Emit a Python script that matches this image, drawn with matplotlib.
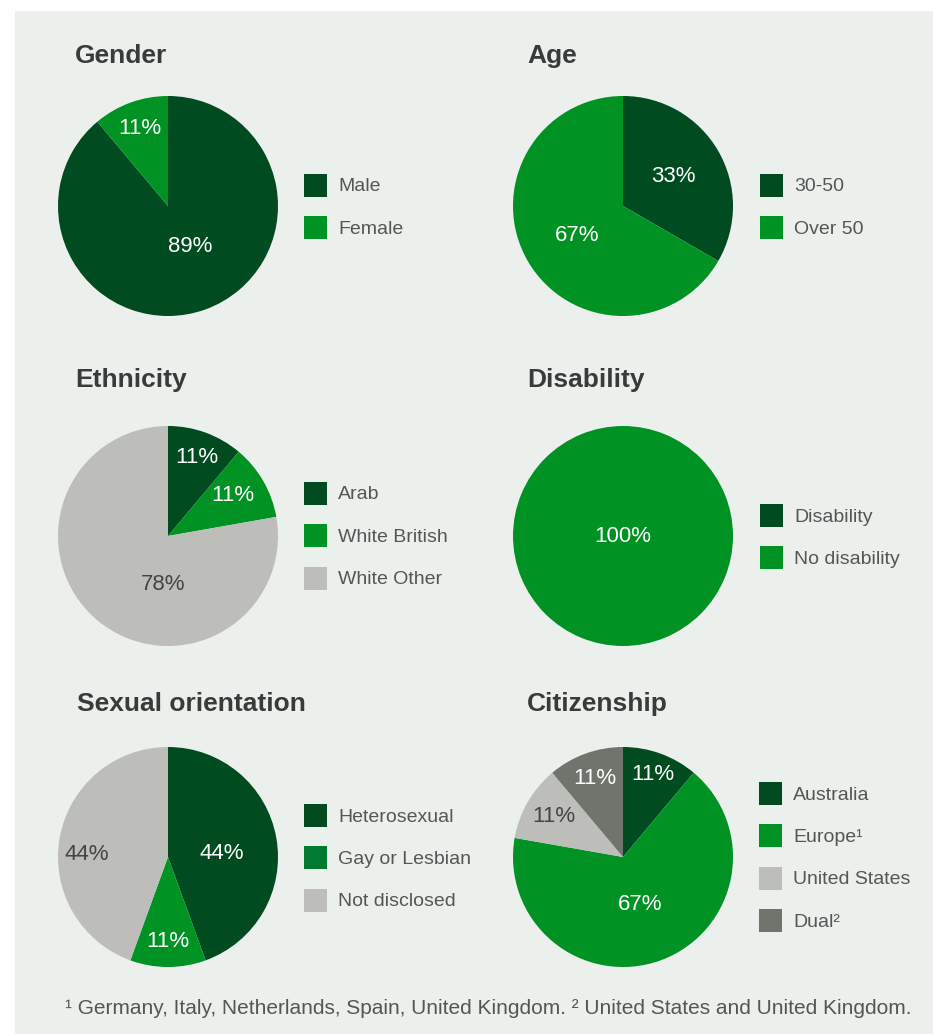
import matplotlib
matplotlib.use("Agg")
import matplotlib.pyplot as plt
from matplotlib.patches import Rectangle
import numpy as np

plt.rcParams['font.family'] = ['Liberation Sans', 'DejaVu Sans']

# board counts (9 members) per category
titles = ['Gender', 'Age', 'Ethnicity', 'Disability', 'Sexual orientation', 'Citizenship']

gender_labels = ['Male', 'Female']
gender_counts = [8, 1]
age_labels = ['30-50', 'Over 50']
age_counts = [3, 6]
ethnicity_labels = ['Arab', 'White British', 'White Other']
ethnicity_counts = [1, 1, 7]
disability_labels = ['Disability', 'No disability']
disability_counts = [0, 9]
sexual_labels = ['Heterosexual', 'Gay or Lesbian', 'Not disclosed']
sexual_counts = [4, 1, 4]
citizen_labels = ['Australia', 'Europe¹', 'United States', 'Dual²']
citizen_counts = [1, 6, 1, 1]

footnote = ('¹ Germany, Italy, Netherlands, Spain, United Kingdom. '
            '² United States and United Kingdom.')

DARK = '#004b1f'
GREEN = '#009222'
MID = '#027b31'
LGRAY = '#bdbeb9'
DGRAY = '#6f756c'
TXT = '#3a3a3a'
LEG = '#555555'

W, H = 933, 1034
fig = plt.figure(figsize=(W / 100, H / 100), dpi=100)
fig.patch.set_facecolor('white')
fig.patches.append(Rectangle((15 / W, 0), 1, 1 - 11 / H, transform=fig.transFigure,
                             facecolor='#ecf0ec', edgecolor='none', zorder=-5))

# (counts, labels, pie colors, legend colors, pct label (dist, angle shift deg),
#  pct text colors, pie center px, title pos px, legend x px, legend first y px)
panels = [
    (gender_counts, gender_labels, [DARK, GREEN], [DARK, GREEN], [(0.42, 8), (0.75, 0)],
     ['white', 'white'], (168, 206), (75, 56), 304, 185),
    (age_counts, age_labels, [DARK, GREEN], [DARK, GREEN], [(0.53, 0), (0.5, 3)],
     ['white', 'white'], (623, 206), (527, 56), 760, 185),
    (ethnicity_counts, ethnicity_labels, [DARK, GREEN, LGRAY], [DARK, GREEN, LGRAY],
     [(0.76, 0), (0.7, 2), (0.44, 34)], ['white', 'white', '#444444'], (168, 536), (75, 380), 304, 493),
    (disability_counts, disability_labels, [DARK, GREEN], [DARK, GREEN], [(0, 0), (0, 0)],
     ['white', 'white'], (623, 536), (527, 380), 760, 515),
    (sexual_counts, sexual_labels, [DARK, GREEN, LGRAY], [DARK, MID, LGRAY],
     [(0.49, -6), (0.77, 0), (0.74, 8)], ['white', 'white', '#444444'], (168, 857), (77, 704), 304, 815),
    (citizen_counts, citizen_labels, [DARK, GREEN, LGRAY, DGRAY], [DARK, GREEN, LGRAY, DGRAY],
     [(0.8, 0), (0.46, 0), (0.73, 0), (0.76, 0)], ['white', 'white', '#444444', 'white'],
     (623, 857), (527, 704), 759, 793),
]

R = 110
for title, (counts, labels, cols, legcols, dists, tcols, (cx, cy), (tx, ty), lx, ly) in zip(titles, panels):
    ax = fig.add_axes([(cx - R) / W, 1 - (cy + R) / H, 2 * R / W, 2 * R / H])
    ax.set_zorder(1)
    wedges, _ = ax.pie(counts, colors=cols, startangle=90, counterclock=False,
                       radius=1, wedgeprops=dict(linewidth=0))
    total = sum(counts)
    for w, c, (d, shift), tc in zip(wedges, counts, dists, tcols):
        if c == 0:
            continue
        ang = np.deg2rad((w.theta1 + w.theta2) / 2 + shift)
        if c == total:
            x, y = 0, 0
        else:
            x, y = d * np.cos(ang), d * np.sin(ang)
        ax.text(x, y, f'{round(100 * c / total)}%', ha='center', va='center',
                color=tc, fontsize=16)
    ax.set_xlim(-1, 1)
    ax.set_ylim(-1, 1)
    ax.set_aspect('equal')
    ax.axis('off')

    fig.text(tx / W, 1 - ty / H, title, fontsize=19, fontweight='bold', color=TXT,
             ha='left', va='center')

    step = 42.5
    for i, (lab, lc) in enumerate(zip(labels, legcols)):
        yy = ly + i * step
        fig.patches.append(Rectangle((lx / W, 1 - (yy + 11.5) / H), 23 / W, 23 / H,
                                     transform=fig.transFigure, facecolor=lc,
                                     edgecolor='none', zorder=2))
        fig.text((lx + 34) / W, 1 - yy / H, lab, fontsize=14, color=LEG,
                 ha='left', va='center_baseline')

fig.text(488 / W, 1 - 1008 / H, footnote, fontsize=15, color=LEG,
         ha='center', va='center')

fig.savefig('out.png', dpi=100, facecolor=fig.get_facecolor())
